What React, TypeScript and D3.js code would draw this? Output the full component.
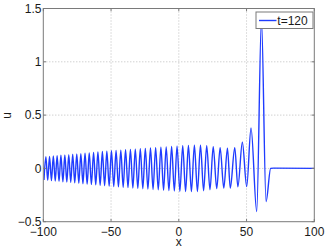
import React from "react";
import * as d3 from "d3";

const xTicks = [-100, -50, 0, 50, 100];
const yTicks = [-0.5, 0, 0.5, 1, 1.5];
const legendLabel = "t=120";

const peakX = [-98.1, -95.4, -92.6, -89.8, -87.0, -84.1, -81.2, -78.3, -75.3, -72.3, -69.2, -66.1, -62.9, -59.7, -56.4, -53.1, -49.7, -46.3, -42.8, -39.3, -35.7, -32.1, -28.4, -24.7, -20.9, -17.1, -13.2, -9.3, -5.3, -1.3, 2.9, 7.1, 11.5, 16.0, 20.6, 25.4, 30.5, 35.9, 41.3, 46.9, 53.3, 61.0];
const peakU = [0.110, 0.113, 0.116, 0.119, 0.123, 0.126, 0.129, 0.133, 0.136, 0.139, 0.143, 0.146, 0.150, 0.154, 0.158, 0.161, 0.165, 0.168, 0.171, 0.175, 0.178, 0.181, 0.184, 0.188, 0.191, 0.195, 0.198, 0.202, 0.205, 0.209, 0.212, 0.215, 0.217, 0.217, 0.212, 0.203, 0.194, 0.19, 0.195, 0.245, 0.38, 1.40];
const troughX = [-99.5, -96.75, -94.0, -91.2, -88.4, -85.55, -82.65, -79.75, -76.8, -73.8, -70.75, -67.65, -64.5, -61.3, -58.05, -54.75, -51.4, -48.0, -44.55, -41.05, -37.5, -33.9, -30.25, -26.55, -22.8, -19.0, -15.15, -11.25, -7.3, -3.3, 0.8, 5.0, 9.3, 13.75, 18.3, 23.0, 28.0, 33.2, 38.0, 43.6, 50.1, 57.5, 64.4];
const troughU = [-0.109, -0.112, -0.115, -0.119, -0.122, -0.125, -0.129, -0.132, -0.136, -0.139, -0.143, -0.147, -0.150, -0.154, -0.158, -0.162, -0.166, -0.170, -0.173, -0.177, -0.180, -0.184, -0.187, -0.191, -0.194, -0.198, -0.201, -0.205, -0.208, -0.212, -0.215, -0.217, -0.218, -0.216, -0.210, -0.200, -0.190, -0.185, -0.185, -0.172, -0.170, -0.405, -0.31];
const tailX = [67.8, 70, 100];
const tailU = [0.0, 0.003, 0.0];

const W = 327, H = 251;
const L = 43.3, R = 314.3, T = 8.5, B = 221.7;
const font = "'Liberation Sans', Arial, Helvetica, sans-serif";
const fmt = (v: number) => (v < 0 ? "\u2212" + String(-v) : String(v));

export default function App() {
  const x = d3.scaleLinear().domain([-100, 100]).range([L, R]);
  const y = d3.scaleLinear().domain([-0.5, 1.5]).range([B, T]);

  const pts: [number, number][] = [];
  peakX.forEach((v, i) => pts.push([v, peakU[i]]));
  troughX.forEach((v, i) => pts.push([v, troughU[i]]));
  tailX.forEach((v, i) => pts.push([v, tailU[i]]));
  pts.sort((a, b) => a[0] - b[0]);

  const line = d3
    .line<[number, number]>()
    .x((d) => x(d[0]))
    .y((d) => y(d[1]))
    .curve(d3.curveMonotoneX);

  const tk = 2.7;
  const axisColor = "#7a7a7a";
  const gridColor = "#bdbdbd";

  return (
    <svg width={W} height={H} style={{ position: "absolute", left: 0, top: 0, background: "#fff" }} fontFamily={font}>
      <defs>
        <clipPath id="plot">
          <rect x={L} y={T} width={R - L} height={B - T} />
        </clipPath>
      </defs>
      <rect x={0} y={0} width={W} height={H} fill="#fff" />
      {/* grid */}
      {xTicks.slice(1, -1).map((t) => (
        <line key={"gx" + t} x1={x(t)} x2={x(t)} y1={T} y2={B} stroke={gridColor} strokeWidth={1} strokeDasharray="1 2" />
      ))}
      {yTicks.slice(1, -1).map((t) => (
        <line key={"gy" + t} x1={L} x2={R} y1={y(t)} y2={y(t)} stroke={gridColor} strokeWidth={1} strokeDasharray="1 2" />
      ))}
      {/* data */}
      <path d={line(pts) || ""} fill="none" stroke="#1f3cff" strokeWidth={1.4} clipPath="url(#plot)" strokeLinejoin="round" />
      {/* box */}
      <rect x={L} y={T} width={R - L} height={B - T} fill="none" stroke={axisColor} strokeWidth={1} />
      {/* ticks */}
      {xTicks.map((t) => (
        <g key={"tx" + t}>
          <line x1={x(t)} x2={x(t)} y1={B} y2={B - tk} stroke={axisColor} />
          <line x1={x(t)} x2={x(t)} y1={T} y2={T + tk} stroke={axisColor} />
          <text x={x(t)} y={235.5} fontSize={12} textAnchor="middle" fill="#1a1a1a">{fmt(t)}</text>
        </g>
      ))}
      {yTicks.map((t) => (
        <g key={"ty" + t}>
          <line x1={L} x2={L + tk} y1={y(t)} y2={y(t)} stroke={axisColor} />
          <line x1={R} x2={R - tk} y1={y(t)} y2={y(t)} stroke={axisColor} />
          <text x={41.5} y={y(t) + 4.3} fontSize={12} textAnchor="end" fill="#1a1a1a">{fmt(t)}</text>
        </g>
      ))}
      {/* axis labels */}
      <text x={x(0)} y={245.7} fontSize={12} textAnchor="middle" fill="#1a1a1a">x</text>
      <text transform={`translate(11.3,115.3) rotate(-90)`} fontSize={12} textAnchor="middle" fill="#1a1a1a">u</text>
      {/* legend */}
      <rect x={256} y={12} width={57} height={16.5} fill="#fff" stroke={axisColor} strokeWidth={1} />
      <line x1={259} x2={276.5} y1={20.5} y2={20.5} stroke="#1f3cff" strokeWidth={1.4} />
      <text x={277.3} y={24.8} fontSize={12} fill="#1a1a1a">{legendLabel}</text>
    </svg>
  );
}
